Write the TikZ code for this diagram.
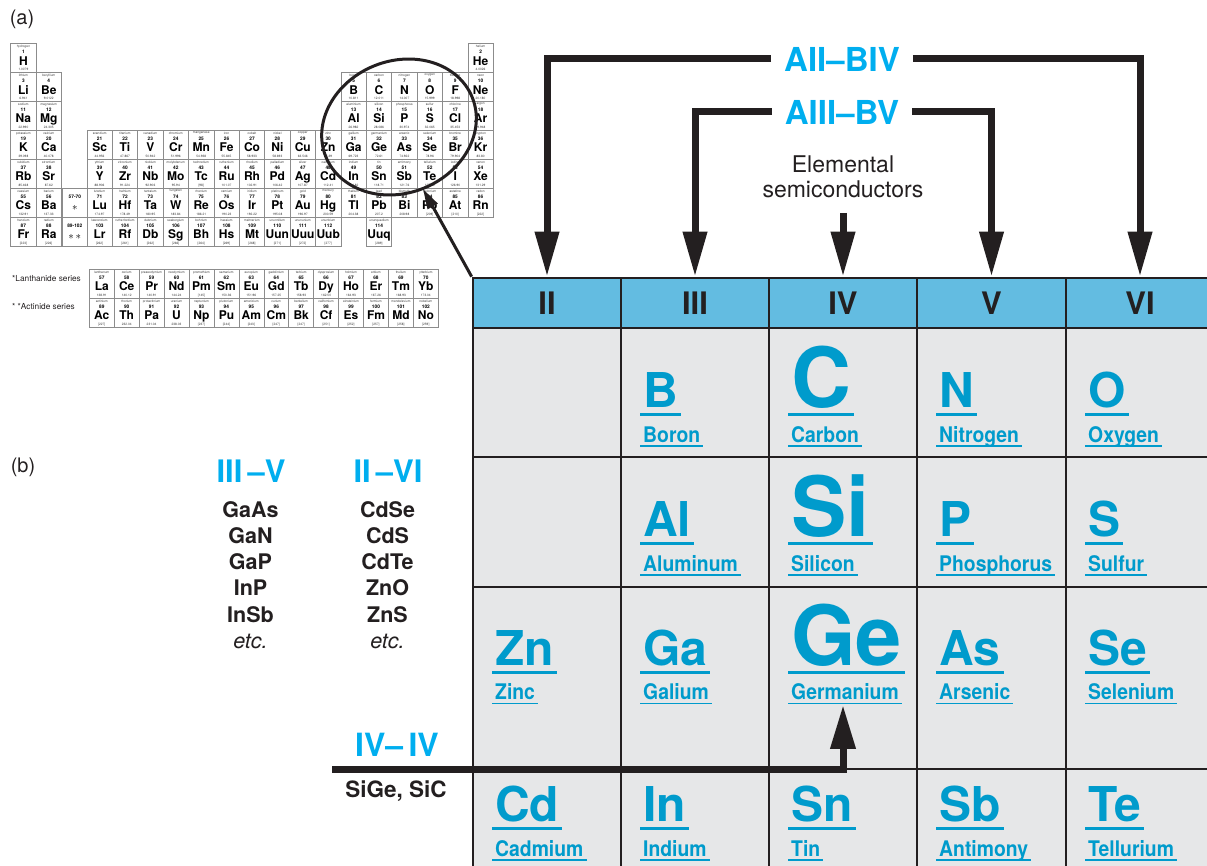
\documentclass[tikz,border=0pt]{standalone}
\usepackage{fontspec}
\setmainfont{TeX Gyre Heros}
\usepackage{graphicx}
\usetikzlibrary{arrows.meta}
\definecolor{hdr}{RGB}{99,188,225}
\definecolor{cellbg}{RGB}{230,231,232}
\definecolor{elem}{RGB}{0,155,204}
\definecolor{labc}{RGB}{0,174,239}
\definecolor{ink}{RGB}{35,31,32}
\definecolor{pgray}{RGB}{140,140,140}
\newcommand\fsz[1]{\fontsize{#1}{#1}\selectfont}
\newcommand\elcell[7]{%
  \node[#7] (#1s) at (#2,#3) {#5};
  \draw[symul] ([yshift=-7.3pt]#1s.base west) -- ([yshift=-7.3pt]#1s.base east);
  \node[ename] (#1n) at (#2,#4) {\scalebox{0.9}[1]{#6}};
  \draw[nameul] ([yshift=-4pt]#1n.base west) -- ([yshift=-4pt]#1n.base east);
}
\begin{document}
\begin{tikzpicture}[x=1pt,y=-1pt,
 pbox/.style={draw=pgray, line width=0.6pt, minimum width=25.4pt, minimum height=28.95pt, inner sep=0pt},
 lbox/.style={pbox, minimum width=24.93pt, minimum height=28.8pt},
 pname/.style={font=\fsz{3.2}, inner sep=0pt, text=black!75},
 pnum/.style={font=\fsz{4.8}\bfseries, inner sep=0pt},
 psym/.style={font=\fsz{12}\bfseries, inner sep=0pt, anchor=base},
 pmass/.style={font=\fsz{3.2}, inner sep=0pt, text=black!75},
 hcell/.style={fill=hdr, draw=ink, line width=2.7pt, minimum width=148pt, minimum height=50pt, inner sep=0pt, font=\fsz{31}\bfseries, text=ink},
 esym/.style={font=\fsz{48}\bfseries, text=elem, anchor=base west, inner xsep=3pt, inner ysep=0pt},
 ebig/.style={esym, font=\fsz{83}\bfseries},
 ename/.style={font=\fsz{21.5}\bfseries, text=elem, anchor=base west, inner xsep=3pt, inner ysep=0pt},
 symul/.style={draw=elem, line width=3.3pt},
 nameul/.style={draw=elem, line width=1.7pt},
 gridl/.style={draw=ink, line width=2.7pt},
 lab/.style={font=\fsz{33}\bfseries, text=labc, inner ysep=0pt, inner xsep=13pt},
 cmp/.style={font=\fsz{21.5}\bfseries, text=ink, anchor=base, inner sep=0pt},
 cmpit/.style={font=\fsz{21.5}\itshape, text=ink, anchor=base, inner sep=0pt},
 arr/.style={draw=ink, line width=7pt, line join=miter, -{Triangle[length=45pt,width=23pt]}},
]
\useasboundingbox (0,0) rectangle (1207,866);

% ---------- (a) small periodic table ----------
\node[font=\fsz{20}, text=ink, inner sep=0pt] (pa) at (22,19) {(a)};
\foreach \ec/\er/\en/\es/\enm/\ems in {
 1/1/1/H/hydrogen/1.0079, 19/1/2/He/helium/4.0026,
 1/2/3/Li/lithium/6.941, 2/2/4/Be/beryllium/9.0122, 14/2/5/B/boron/10.811, 15/2/6/C/carbon/12.011, 16/2/7/N/nitrogen/14.007, 17/2/8/O/oxygen/15.999, 18/2/9/F/fluorine/18.998, 19/2/10/Ne/neon/20.180,
 1/3/11/Na/sodium/22.990, 2/3/12/Mg/magnesium/24.305, 14/3/13/Al/aluminium/26.982, 15/3/14/Si/silicon/28.086, 16/3/15/P/phosphorus/30.974, 17/3/16/S/sulfur/32.065, 18/3/17/Cl/chlorine/35.453, 19/3/18/Ar/argon/39.948,
 1/4/19/K/potassium/39.098, 2/4/20/Ca/calcium/40.078, 4/4/21/Sc/scandium/44.956, 5/4/22/Ti/titanium/47.867, 6/4/23/V/vanadium/50.942, 7/4/24/Cr/chromium/51.996, 8/4/25/Mn/manganese/54.938, 9/4/26/Fe/iron/55.845, 10/4/27/Co/cobalt/58.933, 11/4/28/Ni/nickel/58.693, 12/4/29/Cu/copper/63.546, 13/4/30/Zn/zinc/65.39, 14/4/31/Ga/gallium/69.723, 15/4/32/Ge/germanium/72.61, 16/4/33/As/arsenic/74.922, 17/4/34/Se/selenium/78.96, 18/4/35/Br/bromine/79.904, 19/4/36/Kr/krypton/83.80,
 1/5/37/Rb/rubidium/85.468, 2/5/38/Sr/strontium/87.62, 4/5/39/Y/yttrium/88.906, 5/5/40/Zr/zirconium/91.224, 6/5/41/Nb/niobium/92.906, 7/5/42/Mo/molybdenum/95.94, 8/5/43/Tc/technetium/{[98]}, 9/5/44/Ru/ruthenium/101.07, 10/5/45/Rh/rhodium/102.91, 11/5/46/Pd/palladium/106.42, 12/5/47/Ag/silver/107.87, 13/5/48/Cd/cadmium/112.41, 14/5/49/In/indium/114.82, 15/5/50/Sn/tin/118.71, 16/5/51/Sb/antimony/121.76, 17/5/52/Te/tellurium/127.60, 18/5/53/I/iodine/126.90, 19/5/54/Xe/xenon/131.29,
 1/6/55/Cs/caesium/132.91, 2/6/56/Ba/barium/137.33, 4/6/71/Lu/lutetium/174.97, 5/6/72/Hf/hafnium/178.49, 6/6/73/Ta/tantalum/180.95, 7/6/74/W/tungsten/183.84, 8/6/75/Re/rhenium/186.21, 9/6/76/Os/osmium/190.23, 10/6/77/Ir/iridium/192.22, 11/6/78/Pt/platinum/195.08, 12/6/79/Au/gold/196.97, 13/6/80/Hg/mercury/200.59, 14/6/81/Tl/thallium/204.38, 15/6/82/Pb/lead/207.2, 16/6/83/Bi/bismuth/208.98, 17/6/84/Po/polonium/{[209]}, 18/6/85/At/astatine/{[210]}, 19/6/86/Rn/radon/{[222]},
 1/7/87/Fr/francium/{[223]}, 2/7/88/Ra/radium/{[226]}, 4/7/103/Lr/lawrencium/{[262]}, 5/7/104/Rf/rutherfordium/{[261]}, 6/7/105/Db/dubnium/{[262]}, 7/7/106/Sg/seaborgium/{[266]}, 8/7/107/Bh/bohrium/{[264]}, 9/7/108/Hs/hassium/{[269]}, 10/7/109/Mt/meitnerium/{[268]}, 11/7/110/Uun/ununnilium/{[271]}, 12/7/111/Uuu/unununium/{[272]}, 13/7/112/Uub/ununbium/{[277]}, 15/7/114/Uuq/ununquadium/{[289]}}{
  \pgfmathsetmacro\px{10.7+(\ec-1)*25.4+12.7}
  \pgfmathsetmacro\py{43.3+(\er-1)*28.95}
  \node[pbox] (pc\en) at (\px,\py+14.475) {};
  \node[pname] (pn\en) at (\px,\py+3.2) {\enm};
  \node[pnum] (pz\en) at (\px,\py+8.5) {\en};
  \node[psym] (ps\en) at (\px,\py+21.8) {\es};
  \node[pmass] (pm\en) at (\px,\py+26.2) {\ems};
}
% placeholders
\foreach \er/\lbl/\st in {6/57-70/{$\ast$}, 7/89-102/{$\ast\,\ast$}}{
  \pgfmathsetmacro\py{43.3+(\er-1)*28.95}
  \node[pbox] (ph\er) at (74.8,\py+14.475) {};
  \node[pnum] (phn\er) at (74.8,\py+8.5) {\lbl};
  \node[font=\fsz{11}, inner sep=0pt] (phs\er) at (74.8,\py+19.5) {\st};
}
% lanthanides / actinides
\node[font=\fsz{8.3}, anchor=west, inner sep=0pt, text=ink] (lanl) at (12,278.5) {*Lanthanide series};
\node[font=\fsz{8.3}, anchor=west, inner sep=0pt, text=ink] (actl) at (12,307) {* *Actinide series};
\foreach \ec/\er/\en/\es/\enm/\ems in {
 0/0/57/La/lanthanum/138.91, 1/0/58/Ce/cerium/140.12, 2/0/59/Pr/praseodymium/140.91, 3/0/60/Nd/neodymium/144.24, 4/0/61/Pm/promethium/{[145]}, 5/0/62/Sm/samarium/150.36, 6/0/63/Eu/europium/151.96, 7/0/64/Gd/gadolinium/157.25, 8/0/65/Tb/terbium/158.93, 9/0/66/Dy/dysprosium/162.50, 10/0/67/Ho/holmium/164.93, 11/0/68/Er/erbium/167.26, 12/0/69/Tm/thulium/168.93, 13/0/70/Yb/ytterbium/173.04,
 0/1/89/Ac/actinium/{[227]}, 1/1/90/Th/thorium/232.04, 2/1/91/Pa/protactinium/231.04, 3/1/92/U/uranium/238.03, 4/1/93/Np/neptunium/{[237]}, 5/1/94/Pu/plutonium/{[244]}, 6/1/95/Am/americium/{[243]}, 7/1/96/Cm/curium/{[247]}, 8/1/97/Bk/berkelium/{[247]}, 9/1/98/Cf/californium/{[251]}, 10/1/99/Es/einsteinium/{[252]}, 11/1/100/Fm/fermium/{[257]}, 12/1/101/Md/mendelevium/{[258]}, 13/1/102/No/nobelium/{[259]}}{
  \pgfmathsetmacro\px{89.3+\ec*24.93+12.465}
  \pgfmathsetmacro\py{269.4+\er*28.8}
  \node[lbox] (pc\en) at (\px,\py+14.4) {};
  \node[pname] (pn\en) at (\px,\py+3.2) {\enm};
  \node[pnum] (pz\en) at (\px,\py+8.5) {\en};
  \node[psym] (ps\en) at (\px,\py+21.4) {\es};
  \node[pmass] (pm\en) at (\px,\py+26.0) {\ems};
}
% ellipse highlight
\draw[draw=ink, line width=3pt, rotate around={22:(399,127)}] (399,127) ellipse [x radius=79pt, y radius=66pt];

% ---------- big table ----------
\fill[cellbg] (473,328) rectangle (1214,870);
\draw[gridl] (473,328) -- (473,870);
\foreach \x in {621,769,917,1066} \draw[gridl] (\x,328) -- (\x,870);
\foreach \y in {457,587,769} \draw[gridl] (473,\y) -- (1214,\y);
\node[hcell] (h2) at (547,303) {II};
\node[hcell] (h3) at (695,303) {III};
\node[hcell] (h4) at (843,303) {IV};
\node[hcell, minimum width=149pt] (h5) at (991.5,303) {V};
\node[hcell] (h6) at (1140,303) {VI};

\elcell{B}{640}{407}{442}{B}{Boron}{esym}
\elcell{C}{788}{407}{442}{C}{Carbon}{ebig}
\elcell{N}{936}{407}{442}{N}{Nitrogen}{esym}
\elcell{O}{1085}{407}{442}{O}{Oxygen}{esym}
\elcell{Al}{640}{536}{571}{Al}{Aluminum}{esym}
\elcell{Si}{788}{536}{571}{Si}{Silicon}{ebig}
\elcell{P}{936}{536}{571}{P}{Phosphorus}{esym}
\elcell{S}{1085}{536}{571}{S}{Sulfur}{esym}
\elcell{Zn}{492}{665}{699.5}{Zn}{Zinc}{esym}
\elcell{Ga}{640}{665}{699.5}{Ga}{Galium}{esym}
\elcell{Ge}{788}{665}{699.5}{Ge}{Germanium}{ebig}
\elcell{As}{936}{665}{699.5}{As}{Arsenic}{esym}
\elcell{Se}{1085}{665}{699.5}{Se}{Selenium}{esym}
\elcell{Cd}{492}{821}{856}{Cd}{Cadmium}{esym}
\elcell{In}{640}{821}{856}{In}{Indium}{esym}
\elcell{Sn}{788}{821}{856}{Sn}{Tin}{esym}
\elcell{Sb}{936}{821}{856}{Sb}{Antimony}{esym}
\elcell{Te}{1085}{821}{856}{Te}{Tellurium}{esym}

% ---------- top labels and arrows ----------
\node[lab] (a2b4) at (842,59) {AII–BIV};
\node[lab] (a3b5) at (842,112) {AIII–BV};
\draw[arr] (a2b4.west) -| (h2.north);
\draw[arr] (a2b4.east) -| (h6.north);
\draw[arr] (a3b5.west) -| (h3.north);
\draw[arr] (a3b5.east) -| (h5.north);
\node[font=\fontsize{23}{25.5}\selectfont, text=ink, align=center, anchor=south, inner ysep=15pt, text depth=0pt] (elsc) at (843,213) {Elemental\\semiconductors};
\draw[arr] (elsc.south) -- (h4.north);

% pointer from ellipse to the table
\coordinate (etip) at (423,189);
\draw[draw=ink, line width=3pt, -{Triangle[length=20pt,width=11pt]}] (h2.north west) -- (etip);

% ---------- (b) compounds ----------
\node[font=\fsz{20}, text=ink, inner sep=0pt] (pb) at (23,467) {(b)};
\node[lab, inner xsep=0pt, font=\fsz{31}\bfseries] (l35) at (251,471) {III\,–V};
\node[lab, inner xsep=0pt, font=\fsz{31}\bfseries] (l26) at (388,471) {II\,–VI};
\foreach \i/\t in {1/GaAs,2/GaN,3/GaP,4/InP,5/InSb}
  \node[cmp] (c35\i) at (250.5,{517.3+(\i-1)*26.2}) {\t};
\node[cmpit] (c35e) at (250.5,648.3) {etc.};
\foreach \i/\t in {1/CdSe,2/CdS,3/CdTe,4/ZnO,5/ZnS}
  \node[cmp] (c26\i) at (387.5,{517.3+(\i-1)*26.2}) {\t};
\node[cmpit] (c26e) at (387.5,648.3) {etc.};

\node[lab, inner xsep=0pt, font=\fsz{32}\bfseries] (l44) at (397,745) {IV–\,IV};
\node[cmp, font=\fsz{22.5}\bfseries] (sige) at (396,797) {SiGe, SiC};
\coordinate (ivst) at (332,769);
\coordinate (getip) at ([yshift=-5pt]h4.center |- Gen.south);
\draw[arr, -{Triangle[length=44pt,width=24pt]}] (ivst) -| (getip);
\end{tikzpicture}
\end{document}
